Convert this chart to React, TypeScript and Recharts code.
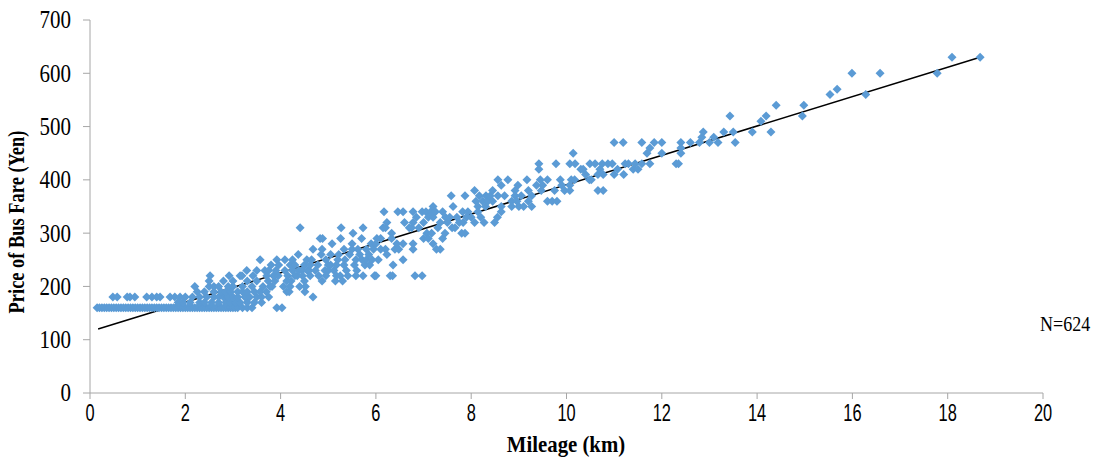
import React from "react";
import { ScatterChart, Scatter, XAxis, YAxis, ReferenceLine } from "recharts";

// [mileage km, fare yen]
const fares0to2: [number, number][] = [
  [0.15, 160], [0.2, 160], [0.25, 160], [0.3, 160], [0.35, 160], [0.4, 160], [0.45, 160], [0.5, 160],
  [0.55, 160], [0.6, 160], [0.65, 160], [0.7, 160], [0.75, 160], [0.8, 160], [0.85, 160], [0.9, 160],
  [0.95, 160], [1.0, 160], [1.05, 160], [1.1, 160], [1.15, 160], [1.2, 160], [1.25, 160], [1.3, 160],
  [1.35, 160], [1.4, 160], [1.45, 160], [1.5, 160], [1.55, 160], [1.6, 160], [1.65, 160], [1.7, 160],
  [1.75, 160], [1.8, 160], [1.85, 160], [1.9, 160], [1.95, 160], [2.0, 160],
  [0.48, 180], [0.57, 180], [0.78, 180], [0.84, 180], [0.94, 180], [1.19, 180], [1.3, 180], [1.4, 180],
  [1.47, 180], [1.68, 180], [1.78, 180], [1.89, 180], [2.0, 180],
  [1.85, 170], [1.95, 170],
];

const fares2to4: [number, number][] = [
  [2.05, 160], [2.1, 160], [2.15, 160], [2.2, 160], [2.25, 160], [2.3, 160], [2.35, 160], [2.4, 160],
  [2.45, 160], [2.5, 160], [2.55, 160], [2.6, 160], [2.65, 160], [2.7, 160], [2.75, 160], [2.8, 160],
  [2.85, 160], [2.9, 160], [2.95, 160], [3.0, 160], [3.05, 160], [3.1, 160], [3.2, 160], [3.3, 160],
  [3.4, 160], [3.92, 160], [4.03, 160],
  [2.1, 170], [2.3, 170], [2.4, 170], [2.55, 170], [2.7, 170], [2.85, 170], [2.95, 170], [3.05, 170],
  [3.15, 170], [3.3, 170], [3.45, 170], [3.6, 170],
  [2.15, 180], [2.3, 180], [2.45, 180], [2.6, 180], [2.7, 180], [2.8, 180], [2.9, 180], [3.0, 180],
  [3.1, 180], [3.25, 180], [3.35, 180], [3.5, 180], [3.6, 180], [3.75, 180],
  [2.25, 190], [2.4, 190], [2.6, 190], [2.75, 190], [2.85, 190], [2.95, 190], [3.1, 190], [3.2, 190],
  [3.3, 190], [3.45, 190], [3.57, 190], [3.7, 190],
  [2.2, 200], [2.5, 200], [2.6, 200], [2.7, 200], [2.9, 200], [3.0, 200], [3.2, 200], [3.4, 200],
  [3.63, 200], [3.78, 200], [3.82, 200],
  [2.5, 210], [2.8, 210], [3.0, 210], [3.3, 210], [3.5, 210], [3.74, 210], [3.88, 210],
  [2.52, 220], [2.92, 220], [3.15, 220], [3.19, 220], [3.42, 220], [3.71, 220], [3.85, 220], [3.95, 220],
  [3.29, 230], [3.5, 230], [3.67, 230], [3.75, 230], [3.9, 230],
  [3.8, 240], [3.96, 240], [3.57, 250], [3.92, 250],
];

const fares4to6: [number, number][] = [
  [4.06, 200], [4.13, 190], [4.18, 190], [4.09, 230], [4.09, 250], [4.13, 210], [4.15, 220], [4.2, 200],
  [4.2, 240], [4.22, 210], [4.25, 230], [4.25, 250], [4.3, 220], [4.3, 240], [4.35, 220], [4.37, 260],
  [4.38, 230], [4.4, 200], [4.41, 310], [4.45, 230], [4.46, 220], [4.5, 240], [4.5, 210], [4.51, 190],
  [4.52, 200], [4.55, 250], [4.56, 230], [4.6, 230], [4.62, 220], [4.62, 240], [4.65, 250], [4.68, 180],
  [4.68, 270], [4.73, 230], [4.78, 240], [4.8, 220], [4.83, 290], [4.85, 260], [4.87, 270], [4.87, 210],
  [4.88, 290], [4.93, 230], [4.95, 220], [4.95, 250], [5.0, 240], [5.0, 230], [5.05, 260], [5.05, 240],
  [5.08, 280], [5.12, 230], [5.15, 210], [5.17, 220], [5.17, 240], [5.2, 250], [5.22, 260], [5.25, 220],
  [5.26, 290], [5.27, 310], [5.3, 210], [5.33, 240], [5.33, 270], [5.35, 250], [5.38, 230], [5.41, 220],
  [5.45, 260], [5.5, 280], [5.5, 270], [5.52, 300], [5.55, 240], [5.58, 220], [5.58, 250], [5.6, 230],
  [5.62, 270], [5.66, 260], [5.7, 290], [5.71, 250], [5.73, 310], [5.73, 220], [5.77, 240], [5.8, 270],
  [5.8, 250], [5.85, 260], [5.87, 240], [5.9, 280], [5.92, 250], [5.95, 270], [5.97, 220], [6.0, 220],
];

const fares6to8: [number, number][] = [
  [6.0, 280], [6.02, 290], [6.05, 250], [6.1, 270], [6.1, 290], [6.15, 310], [6.17, 340], [6.2, 270],
  [6.2, 310], [6.23, 260], [6.23, 320], [6.3, 220], [6.33, 300], [6.33, 290], [6.35, 220], [6.36, 240],
  [6.4, 270], [6.44, 280], [6.46, 340], [6.48, 270], [6.57, 340], [6.57, 250], [6.57, 280], [6.6, 320],
  [6.7, 310], [6.75, 310], [6.78, 340], [6.78, 320], [6.78, 280], [6.78, 270], [6.82, 220], [6.85, 330],
  [6.9, 310], [6.97, 220], [6.97, 340], [7.0, 290], [7.0, 320], [7.05, 340], [7.07, 300], [7.1, 330],
  [7.1, 290], [7.15, 340], [7.17, 300], [7.2, 350], [7.2, 330], [7.2, 280], [7.25, 340], [7.27, 270],
  [7.3, 310], [7.35, 270], [7.35, 320], [7.4, 340], [7.4, 290], [7.45, 300], [7.46, 330], [7.5, 320],
  [7.55, 330], [7.58, 370], [7.6, 310], [7.62, 350], [7.66, 310], [7.7, 330], [7.75, 320], [7.8, 300],
  [7.82, 340], [7.83, 320], [7.87, 370], [7.87, 300], [7.9, 330], [7.93, 340],
];

const fares8to10: [number, number][] = [
  [8.0, 330], [8.07, 380], [8.07, 320], [8.1, 360], [8.14, 350], [8.14, 340], [8.17, 370], [8.2, 330],
  [8.24, 360], [8.27, 320], [8.3, 350], [8.31, 370], [8.35, 360], [8.4, 370], [8.45, 380], [8.45, 360],
  [8.49, 320], [8.55, 330], [8.56, 400], [8.56, 370], [8.63, 390], [8.63, 350], [8.63, 340], [8.7, 370],
  [8.77, 400], [8.85, 360], [8.85, 350], [8.92, 370], [8.92, 380], [8.96, 360], [8.98, 390], [9.0, 350],
  [9.05, 370], [9.1, 350], [9.17, 400], [9.2, 380], [9.2, 360], [9.27, 370], [9.27, 350], [9.37, 390],
  [9.42, 430], [9.42, 420], [9.45, 400], [9.47, 380], [9.5, 390], [9.6, 400], [9.6, 360], [9.7, 360],
  [9.75, 380], [9.78, 430], [9.8, 360], [9.87, 400], [9.9, 390], [9.96, 380],
];

const fares10to12: [number, number][] = [
  [10.07, 430], [10.07, 390], [10.07, 380], [10.1, 400], [10.14, 450], [10.17, 400], [10.18, 430],
  [10.3, 420], [10.35, 420], [10.4, 410], [10.48, 400], [10.49, 430], [10.52, 400], [10.6, 430],
  [10.66, 410], [10.66, 380], [10.7, 420], [10.75, 430], [10.77, 410], [10.77, 380], [10.87, 430],
  [10.96, 430], [11.0, 470], [11.0, 410], [11.07, 420], [11.19, 470], [11.2, 410], [11.23, 430],
  [11.3, 430], [11.4, 420], [11.44, 430], [11.5, 420], [11.58, 470], [11.58, 430], [11.69, 450],
  [11.75, 460], [11.75, 430], [11.84, 470], [12.0, 470], [12.0, 450],
];

const fares12to19: [number, number][] = [
  [12.3, 430], [12.35, 430], [12.4, 470], [12.4, 460], [12.4, 450], [12.6, 470], [12.79, 470],
  [12.84, 480], [12.87, 490], [13.0, 470], [13.09, 480], [13.18, 470], [13.3, 490], [13.43, 520],
  [13.5, 490], [13.54, 470], [13.9, 490], [14.08, 510], [14.19, 520], [14.29, 490], [14.4, 540],
  [14.95, 520], [14.98, 540], [15.53, 560], [15.68, 570], [15.99, 600], [16.28, 560], [16.58, 600],
  [17.78, 600], [18.09, 630], [18.68, 630],
];

// linear trend line end points
const trendLine = [
  { x: 0.17, y: 120 },
  { x: 18.68, y: 630 },
];

const xTicks = [0, 2, 4, 6, 8, 10, 12, 14, 16, 18, 20];
const yTicks = [0, 100, 200, 300, 400, 500, 600, 700];
const sampleCount = 624;

const points = [
  ...fares0to2, ...fares2to4, ...fares4to6, ...fares6to8,
  ...fares8to10, ...fares10to12, ...fares12to19,
].map(([x, y]) => ({ x, y }));

const serif = "'Liberation Serif', 'Times New Roman', serif";
const axisColor = "#A6A6A6";

const Diamond = (props: any) => {
  const { cx, cy } = props;
  const r = 4.5;
  return (
    <path
      d={`M${cx},${cy - r}L${cx + r},${cy}L${cx},${cy + r}L${cx - r},${cy}Z`}
      fill="#5B9BD5"
    />
  );
};

// the original uses tall, narrow glyphs, so ticks are stretched vertically
const XTick = (props: any) => {
  const { x, y, payload } = props;
  return (
    <text
      transform={`translate(${x},${y}) scale(0.82,1.2)`}
      y={14.3}
      textAnchor="middle"
      fill="#000"
      fontSize={20}
      fontFamily="'Liberation Sans', Arial, sans-serif"
    >
      {payload.value}
    </text>
  );
};

const YTick = (props: any) => {
  const { x, y, payload } = props;
  return (
    <text
      transform={`translate(${x},${y}) scale(1.05,1.28)`}
      y={6.6}
      textAnchor="end"
      fill="#000"
      fontSize={20}
      fontFamily={serif}
    >
      {payload.value}
    </text>
  );
};

const XTitle = () => (
  <text
    transform="translate(566,452) scale(1.04,1.18)"
    textAnchor="middle"
    fill="#000"
    fontSize={20}
    fontWeight="bold"
    fontFamily={serif}
  >
    Mileage (km)
  </text>
);

const YTitle = () => (
  <text
    transform="translate(24,222) rotate(-90) scale(0.97,1.2)"
    textAnchor="middle"
    fill="#000"
    fontSize={19}
    fontWeight="bold"
    fontFamily={serif}
  >
    Price of Bus Fare (Yen)
  </text>
);

export default function App() {
  return (
    <div style={{ position: "absolute", left: 0, top: 0, width: 1099, height: 464, background: "#fff" }}>
      <ScatterChart width={1099} height={464} margin={{ top: 20, right: 56, bottom: 41, left: 30 }}>
        <XAxis
          type="number"
          dataKey="x"
          domain={[0, 20]}
          ticks={xTicks}
          interval={0}
          height={30}
          tickSize={6}
          tickMargin={5}
          stroke={axisColor}
          tick={<XTick />}
          label={<XTitle />}
        />
        <YAxis
          type="number"
          dataKey="y"
          domain={[0, 700]}
          ticks={yTicks}
          interval={0}
          width={60}
          tickSize={7}
          tickMargin={12}
          stroke={axisColor}
          tick={<YTick />}
          label={<YTitle />}
        />
        <Scatter data={points} shape={<Diamond />} isAnimationActive={false} />
        <ReferenceLine segment={trendLine} stroke="#000" strokeWidth={1.5} />
      </ScatterChart>
      <div
        style={{
          position: "absolute",
          left: 1040,
          top: 314,
          fontFamily: serif,
          fontSize: 18,
          transform: "scaleY(1.15)",
          transformOrigin: "left center",
        }}
      >
        N={sampleCount}
      </div>
    </div>
  );
}
